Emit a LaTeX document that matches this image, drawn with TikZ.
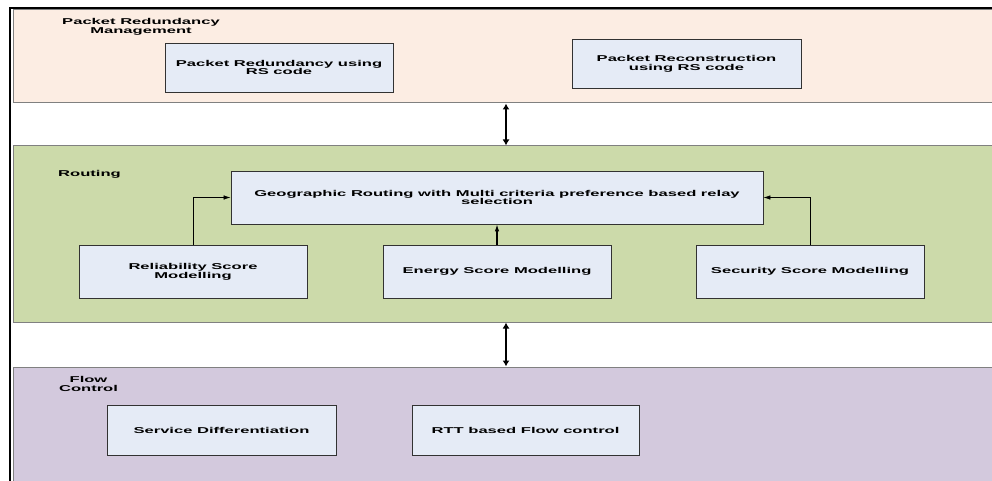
\documentclass[tikz,border=0pt]{standalone}
\usepackage{fontspec}
\newfontfamily\lbl{Liberation Sans}[FakeStretch=1.95]
\usetikzlibrary{arrows.meta}
\definecolor{peach}{RGB}{252,237,227}
\definecolor{routegreen}{RGB}{204,218,170}
\definecolor{flowlav}{RGB}{211,201,221}
\definecolor{boxfill}{RGB}{229,235,246}
\definecolor{bandline}{RGB}{128,128,128}
\definecolor{boxline}{RGB}{50,50,50}
\begin{document}
\begin{tikzpicture}[x=1pt,y=-1pt,
  txt/.style={font=\lbl\bfseries\fontsize{8.5}{8.7}\selectfont, align=center, inner sep=0pt},
  band/.style={draw=bandline, line width=1pt},
  blk/.style={draw=boxline, fill=boxfill, line width=0.8pt, txt},
  dbl/.style={line width=1.2pt, {Latex[length=6pt,width=7pt]}-{Latex[length=6pt,width=7pt]}},
  feed/.style={line width=0.7pt, -{Latex[length=7pt,width=4.5pt]}}
]
\useasboundingbox (0,0) rectangle (992,481);
% bands
\path[band, fill=peach] (13,10) rectangle (1000,103);
\path[band, fill=routegreen] (13,146) rectangle (1000,322);
\path[band, fill=flowlav] (13,367) rectangle (1000,490);
% outer frame
\draw[line width=2pt] (10,490) -- (10,8) -- (1000,8);
% band labels
\node[txt] (lprm) at (141,27) {Packet Redundancy\\Management};
\node[txt, anchor=west] (lrout) at (58,174) {Routing};
\node[txt] (lflow) at (88.5,384) {Flow\\Control};
% boxes
\node[blk, minimum width=228pt, minimum height=49pt] (red) at (279,67.5) {Packet Redundancy using\\RS code};
\node[blk, minimum width=229pt, minimum height=49pt] (rec) at (686.5,63.5) {Packet Reconstruction\\using RS code};
\node[blk, minimum width=532pt, minimum height=53pt] (geo) at (497,197.5) {Geographic Routing with Multi criteria preference based relay\\selection};
\node[blk, minimum width=228pt, minimum height=53pt] (rel) at (193,271.5) {Reliability Score\\Modelling};
\node[blk, minimum width=228pt, minimum height=53pt] (ene) at (497,271.5) {Energy Score Modelling};
\node[blk, minimum width=228pt, minimum height=53pt] (sec) at (810,271.5) {Security Score Modelling};
\node[blk, minimum width=229pt, minimum height=50pt] (svc) at (221.5,430) {Service Differentiation};
\node[blk, minimum width=227pt, minimum height=50pt] (rtt) at (525.5,430) {RTT based Flow control};
% inter-band arrows
\coordinate (a1t) at (506,103.5);
\coordinate (a1b) at (506,145.5);
\coordinate (a2t) at (506,322.5);
\coordinate (a2b) at (506,366.5);
\draw[dbl] (a1t) -- (a1b);
\draw[dbl] (a2t) -- (a2b);
% feeding arrows
\draw[feed] (rel.north) |- (geo.west);
\draw[feed, line width=1.1pt] (ene.north) -- (geo.south);
\draw[feed] (sec.north) |- (geo.east);
\end{tikzpicture}
\end{document}
